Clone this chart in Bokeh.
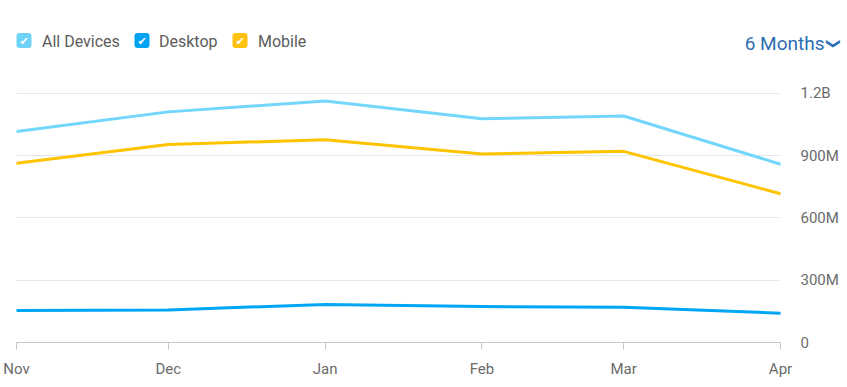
import pandas as pd
from bokeh.plotting import figure
from bokeh.layouts import column
from bokeh.models import Range1d, FixedTicker, DatetimeTickFormatter
from bokeh.core.properties import value
from bokeh.embed import file_html
from bokeh.resources import INLINE

# ---- data ----
months = ["2022-11-01", "2022-12-01", "2023-01-01", "2023-02-01", "2023-03-01", "2023-04-01"]
all_devices = [1016e6, 1110e6, 1162e6, 1077e6, 1090e6, 858e6]
desktop = [154e6, 157e6, 183e6, 173e6, 170e6, 141e6]
mobile = [863e6, 953e6, 976e6, 907e6, 920e6, 716e6]
y_ticks = [0, 300e6, 600e6, 900e6, 1200e6]
y_tick_labels = ["0", "300M", "600M", "900M", "1.2B"]
series_names = ["All Devices", "Desktop", "Mobile"]
period_label = "6 Months"

dates = pd.to_datetime(months)
x_ticks = [d.timestamp() * 1000 for d in dates]

FONT = "Roboto"
C_ALL, C_DESK, C_MOB = "#72d6fd", "#00a6f6", "#ffc400"
BOX_COLORS = ["#6fd3f8", "#00a2f2", "#ffc20e"]
W = 847

# ---- header (legend + period selector), 1 unit = 1 px ----
HH = 70
h = figure(width=W, height=HH, output_backend="svg", toolbar_location=None,
           x_range=Range1d(0, W), y_range=Range1d(HH, 0),
           min_border_left=0, min_border_right=0, min_border_top=0, min_border_bottom=0)
h.frame_align = False
h.axis.visible = False
h.grid.visible = False
h.outline_line_color = None

box_x = [23.5, 141.5, 239.5]
text_x = [41.5, 158.5, 257.5]
BOX = 15
h.quad(left=[b - BOX / 2 for b in box_x], right=[b + BOX / 2 for b in box_x],
       top=[40 - BOX / 2] * 3, bottom=[40 + BOX / 2] * 3,
       fill_color=BOX_COLORS, line_color=None, border_radius=3)
h.text(x=box_x, y=[40.5] * 3, text=["\u2714"] * 3, text_align="center", text_baseline="middle",
       text_font=value("DejaVu Sans"), text_font_size="11px", text_color="white")
h.text(x=text_x, y=[40.5] * 3, text=series_names, text_align="left", text_baseline="middle",
       text_font=value(FONT), text_font_size="16px", text_color="#5c5c5c")
h.text(x=[824], y=[43], text=[period_label], text_align="right", text_baseline="middle",
       text_font=value(FONT), text_font_size="19px", text_color="#2c6db3")
h.text(x=[833.5], y=[43], text=["\u276f"], angle=-1.5708, text_align="center", text_baseline="middle",
       text_font=value("DejaVu Sans"), text_font_size="14px", text_font_style="bold",
       text_color="#2c6db3")

# ---- main chart ----
p = figure(width=W, height=310, x_axis_type="datetime", y_axis_location="right",
           output_backend="svg", toolbar_location=None,
           min_border_left=16, min_border_right=67, min_border_top=10, min_border_bottom=38)
p.frame_align = False
p.outline_line_color = None
p.x_range = Range1d(x_ticks[0], x_ticks[-1])
p.y_range = Range1d(0, 1.261e9)

for ys, c in [(all_devices, C_ALL), (mobile, C_MOB), (desktop, C_DESK)]:
    p.line(dates, ys, line_color=c, line_width=3, line_join="round", line_cap="round")

ya = p.yaxis[0]
ya.ticker = FixedTicker(ticks=y_ticks)
ya.major_label_overrides = {t: l for t, l in zip(y_ticks, y_tick_labels)}
ya.axis_line_color = None
ya.major_tick_line_color = None
ya.major_tick_out = 0
ya.major_tick_in = 0
ya.minor_tick_line_color = None
ya.major_label_standoff = 20
ya.major_label_text_font = FONT
ya.major_label_text_font_size = "15px"
ya.major_label_text_color = "#6b6b6b"

xa = p.xaxis[0]
xa.ticker = FixedTicker(ticks=x_ticks)
xa.formatter = DatetimeTickFormatter(months="%b", days="%b")
xa.axis_line_color = "#c3c8cc"
xa.major_tick_line_color = "#c3c8cc"
xa.major_tick_in = 0
xa.major_tick_out = 7
xa.minor_tick_line_color = None
xa.major_label_standoff = 10
xa.major_label_text_font = FONT
xa.major_label_text_font_size = "15px"
xa.major_label_text_color = "#6b6b6b"

p.xgrid.grid_line_color = None
p.ygrid.ticker = FixedTicker(ticks=y_ticks)
p.ygrid.grid_line_color = "#e4e8eb"
p.ygrid.grid_line_width = 1

layout = column(h, p, spacing=0)
open("out.html", "w").write(file_html(layout, INLINE))
